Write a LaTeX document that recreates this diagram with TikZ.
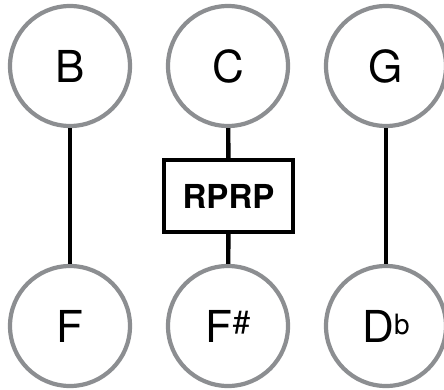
\documentclass[tikz,border=0pt]{standalone}
\usepackage{fontspec}
\setmainfont{TeX Gyre Heros}
\definecolor{ringgray}{RGB}{140,142,145}
\begin{document}
\begin{tikzpicture}[x=1pt,y=1pt,
  note/.style={circle,draw=ringgray,line width=4.2pt,minimum size=120pt,inner sep=0pt,fill=white,font=\fontsize{44}{44}\selectfont},
  opbox/.style={rectangle,draw=black,line width=4.2pt,minimum width=129pt,minimum height=72pt,inner sep=0pt,fill=white,font=\fontsize{33}{33}\selectfont\bfseries},
  link/.style={draw=black,line width=4.4pt}]
\useasboundingbox (0,0) rectangle (444,389);
\node[note] (B) at (70,323) {B};
\node[note] (C) at (228,323) {C};
\node[note] (G) at (386,323) {G};
\node[note] (F) at (70,63) {F};
\node[note] (Fs) at (228,63) {F\raisebox{9pt}{\fontsize{32}{32}\selectfont\#}};
\node[note] (Db) at (386,63) {D\raisebox{8pt}{\fontsize{28}{28}\selectfont b}};
\node[opbox] (R) at (228.5,193) {RPRP};
\draw[link] (B) -- (F);
\draw[link] (G) -- (Db);
\draw[link] (C) -- (R);
\draw[link] (R) -- (Fs);
\end{tikzpicture}
\end{document}
